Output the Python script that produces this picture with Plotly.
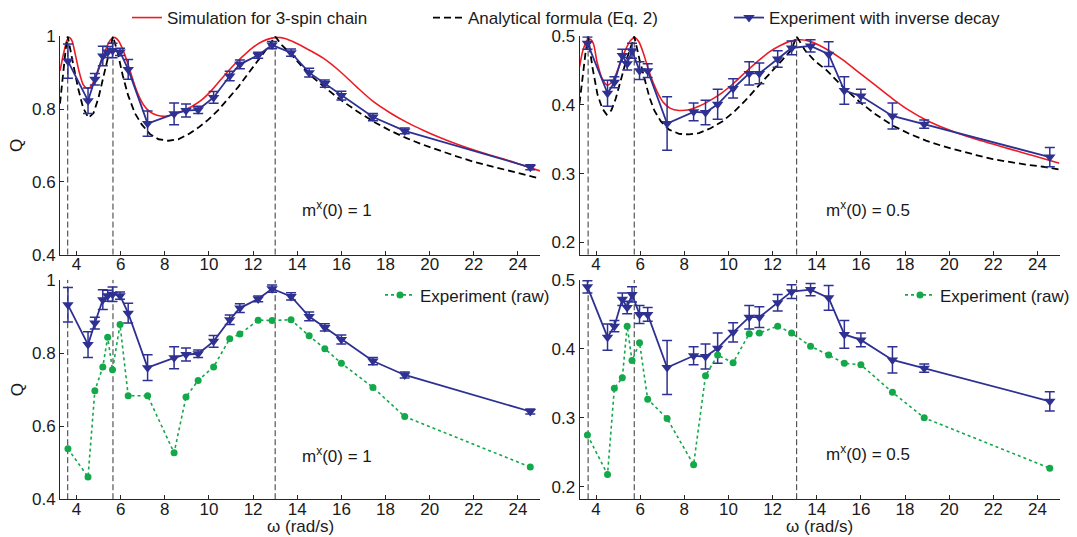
import plotly.graph_objects as go

# ---------------------------------------------------------------- data
# Drive frequencies (rad/s) of the measured points, shared by all four panels
omega = [3.61, 4.52, 4.83, 5.19, 5.41, 5.63, 5.97, 6.34, 7.22, 8.42, 8.96, 9.51,
         10.21, 10.94, 11.40, 12.23, 12.86, 13.72, 14.54, 15.25, 16.00, 17.43,
         18.87, 24.56]

# m^x(0) = 1 : experiment corrected for inverse decay, its error, and raw data
exp_q_1 = [0.932, 0.823, 0.882, 0.946, 0.957, 0.961, 0.957, 0.909, 0.760, 0.787,
           0.796, 0.798, 0.832, 0.891, 0.923, 0.948, 0.976, 0.955, 0.900, 0.870,
           0.837, 0.778, 0.740, 0.640]
exp_err_1 = [0.047, 0.035, 0.016, 0.027, 0.015, 0.020, 0.010, 0.027, 0.035, 0.030,
             0.018, 0.010, 0.016, 0.013, 0.012, 0.008, 0.010, 0.010, 0.012, 0.010,
             0.012, 0.010, 0.008, 0.007]
raw_q_1 = [0.538, 0.461, 0.697, 0.762, 0.843, 0.754, 0.878, 0.683, 0.683, 0.527,
           0.680, 0.725, 0.762, 0.839, 0.852, 0.890, 0.889, 0.891, 0.847, 0.812,
           0.772, 0.706, 0.626, 0.488]

# m^x(0) = 0.5
exp_q_05 = [0.490, 0.417, 0.433, 0.472, 0.460, 0.479, 0.450, 0.450, 0.373, 0.390,
            0.389, 0.401, 0.424, 0.446, 0.446, 0.467, 0.483, 0.486, 0.474, 0.421,
            0.413, 0.384, 0.372, 0.324]
exp_err_05 = [0.009, 0.019, 0.008, 0.009, 0.009, 0.011, 0.013, 0.010, 0.039, 0.013,
              0.018, 0.022, 0.014, 0.017, 0.015, 0.012, 0.010, 0.009, 0.018, 0.020,
              0.010, 0.019, 0.006, 0.014]
raw_q_05 = [0.275, 0.218, 0.343, 0.358, 0.433, 0.383, 0.409, 0.327, 0.299, 0.232,
            0.361, 0.391, 0.380, 0.422, 0.423, 0.433, 0.423, 0.404, 0.391, 0.379,
            0.377, 0.337, 0.300, 0.227]

# Simulation for the 3-spin chain
sim_w_1 = [3.25, 3.41, 3.56, 3.66, 3.79, 3.94, 4.12, 4.31, 4.48, 4.64, 4.84, 5.07,
           5.30, 5.52, 5.71, 5.90, 6.12, 6.35, 6.58, 6.80, 7.03, 7.33, 7.64, 8.01,
           8.39, 8.77, 9.22, 9.67, 10.13, 10.58, 11.03, 11.48, 11.94, 12.39, 12.84,
           13.10, 13.44, 13.89, 14.43, 15.18, 15.93, 16.69, 17.44, 18.20, 18.95,
           19.70, 20.46, 21.22, 21.97, 22.72, 23.50, 24.25, 25.00]
sim_q_1 = [0.905, 0.952, 0.988, 0.997, 0.988, 0.951, 0.902, 0.866, 0.857, 0.861,
           0.884, 0.920, 0.960, 0.989, 0.997, 0.988, 0.960, 0.920, 0.875, 0.839,
           0.812, 0.792, 0.783, 0.780, 0.785, 0.794, 0.807, 0.825, 0.852, 0.884,
           0.915, 0.942, 0.967, 0.985, 0.995, 0.997, 0.994, 0.983, 0.966, 0.940,
           0.904, 0.861, 0.821, 0.790, 0.764, 0.742, 0.722, 0.704, 0.688, 0.674,
           0.660, 0.645, 0.630]

sim_w_05 = [3.25, 3.41, 3.59, 3.71, 3.87, 4.05, 4.27, 4.50, 4.68, 4.88, 5.11, 5.33,
            5.56, 5.76, 5.94, 6.16, 6.39, 6.62, 6.85, 7.07, 7.37, 7.75, 8.21, 8.66,
            9.19, 9.72, 10.25, 10.78, 11.31, 11.84, 12.37, 12.82, 13.28, 13.65,
            14.11, 14.56, 15.17, 15.92, 16.68, 17.44, 18.19, 18.95, 19.71, 20.46,
            21.22, 21.98, 22.73, 23.49, 24.25, 25.00]
sim_q_05 = [0.455, 0.480, 0.494, 0.496, 0.490, 0.462, 0.439, 0.429, 0.432, 0.443,
            0.462, 0.480, 0.494, 0.498, 0.492, 0.474, 0.450, 0.430, 0.414, 0.403,
            0.395, 0.392, 0.393, 0.398, 0.407, 0.418, 0.432, 0.448, 0.463, 0.477,
            0.487, 0.493, 0.495, 0.493, 0.487, 0.479, 0.466, 0.447, 0.428, 0.409,
            0.392, 0.378, 0.367, 0.358, 0.350, 0.343, 0.336, 0.329, 0.322, 0.315]

# Analytical formula (Eq. 2)
ana_w_1 = [3.25, 3.40, 3.51, 3.60, 3.73, 3.83, 4.07, 4.30, 4.54, 4.77, 4.99, 5.20,
           5.41, 5.65, 5.86, 6.09, 6.33, 6.64, 6.95, 7.33, 7.71, 8.16, 8.61, 9.07,
           9.52, 9.97, 10.43, 10.88, 11.33, 11.78, 12.22, 12.66, 13.00, 13.27,
           13.68, 14.08, 14.50, 15.20, 15.90, 16.69, 17.44, 18.20, 18.95, 19.70,
           20.46, 21.22, 22.00, 22.75, 23.50, 24.25, 25.00]
ana_q_1 = [0.815, 0.911, 0.965, 1.000, 0.965, 0.929, 0.857, 0.803, 0.776, 0.789,
           0.830, 0.884, 0.947, 1.000, 0.956, 0.893, 0.839, 0.789, 0.758, 0.731,
           0.717, 0.713, 0.717, 0.731, 0.749, 0.771, 0.798, 0.830, 0.861, 0.898,
           0.933, 0.969, 1.000, 0.978, 0.953, 0.925, 0.898, 0.862, 0.828, 0.795,
           0.766, 0.741, 0.720, 0.702, 0.685, 0.670, 0.655, 0.643, 0.631, 0.620,
           0.609]

ana_w_05 = [3.25, 3.40, 3.53, 3.64, 3.83, 4.06, 4.28, 4.48, 4.69, 4.89, 5.12, 5.35,
            5.58, 5.73, 5.97, 6.19, 6.42, 6.64, 6.94, 7.31, 7.76, 8.21, 8.66, 9.19,
            9.72, 10.25, 10.78, 11.31, 11.84, 12.38, 12.85, 13.09, 13.46, 13.91,
            14.43, 15.17, 15.92, 16.68, 17.44, 18.19, 18.95, 19.71, 20.46, 21.22,
            21.98, 22.73, 23.49, 24.25, 25.00]
ana_q_05 = [0.402, 0.445, 0.478, 0.500, 0.456, 0.416, 0.395, 0.386, 0.392, 0.409,
            0.437, 0.463, 0.485, 0.500, 0.466, 0.437, 0.411, 0.392, 0.376, 0.364,
            0.358, 0.357, 0.359, 0.366, 0.376, 0.390, 0.407, 0.426, 0.445, 0.464,
            0.480, 0.500, 0.480, 0.464, 0.451, 0.427, 0.405, 0.386, 0.370, 0.358,
            0.348, 0.340, 0.333, 0.327, 0.321, 0.317, 0.313, 0.310, 0.306]

# Resonance frequencies (peaks of Eq. 2) marked by vertical dashed lines
resonances_1 = [3.60, 5.65, 13.00]
resonances_05 = [3.64, 5.73, 13.09]

x_ticks = [4, 6, 8, 10, 12, 14, 16, 18, 20, 22, 24]
y_ticks_1 = [0.4, 0.6, 0.8, 1.0]
y_ticks_05 = [0.2, 0.3, 0.4, 0.5]

# ---------------------------------------------------------------- style
W, H = 1077, 537
FONT = "Liberation Sans, Arial, Helvetica, sans-serif"
TXT = "#1a1a1a"
RED = "#ed1c24"
BLUE = "#2e3192"
GREEN = "#13a84a"
FS = 17


def xdom(a, b):
    return [a / W, b / W]


def ydom(top, bottom):
    return [1 - bottom / H, 1 - top / H]


fig = go.Figure()

# panel layout: (xaxis, yaxis) suffixes
panels = {
    "tl": ("x", "y"),
    "tr": ("x2", "y2"),
    "bl": ("x3", "y3"),
    "br": ("x4", "y4"),
}

# ---------------------------------------------------------------- traces
for key, sw, sq, aw, aq, eq, ee in [
    ("tl", sim_w_1, sim_q_1, ana_w_1, ana_q_1, exp_q_1, exp_err_1),
    ("tr", sim_w_05, sim_q_05, ana_w_05, ana_q_05, exp_q_05, exp_err_05),
]:
    xa, ya = panels[key]
    first = key == "tl"
    fig.add_trace(go.Scatter(
        x=sw, y=sq, xaxis=xa, yaxis=ya, mode="lines",
        line=dict(color=RED, width=1.6, shape="spline", smoothing=0.8),
        name="Simulation for 3-spin chain", showlegend=first, legend="legend"))
    fig.add_trace(go.Scatter(
        x=aw, y=aq, xaxis=xa, yaxis=ya, mode="lines",
        line=dict(color="black", width=1.8, dash="7px,4px"),
        name="Analytical formula (Eq. 2)", showlegend=first, legend="legend"))
    fig.add_trace(go.Scatter(
        x=omega, y=eq, xaxis=xa, yaxis=ya, mode="lines+markers",
        line=dict(color=BLUE, width=1.8),
        marker=dict(symbol="triangle-down", size=10, color=BLUE),
        error_y=dict(type="data", array=ee, color=BLUE, thickness=1.5, width=5),
        name="Experiment with inverse decay", showlegend=first, legend="legend"))

for key, eq, ee, rq, leg in [
    ("bl", exp_q_1, exp_err_1, raw_q_1, "legend2"),
    ("br", exp_q_05, exp_err_05, raw_q_05, "legend3"),
]:
    xa, ya = panels[key]
    fig.add_trace(go.Scatter(
        x=omega, y=eq, xaxis=xa, yaxis=ya, mode="lines+markers",
        line=dict(color=BLUE, width=1.8),
        marker=dict(symbol="triangle-down", size=10, color=BLUE),
        error_y=dict(type="data", array=ee, color=BLUE, thickness=1.5, width=5),
        name="Experiment with inverse decay", showlegend=False))
    fig.add_trace(go.Scatter(
        x=omega, y=rq, xaxis=xa, yaxis=ya, mode="lines+markers",
        line=dict(color=GREEN, width=1.6, dash="dot"),
        marker=dict(symbol="circle", size=7, color=GREEN),
        name="Experiment (raw)", showlegend=True, legend=leg))

# ---------------------------------------------------------------- resonance markers
for key, res in [("tl", resonances_1), ("bl", resonances_1),
                 ("tr", resonances_05), ("br", resonances_05)]:
    xa, ya = panels[key]
    for w0 in res:
        fig.add_shape(type="line", xref=xa, yref=f"{ya} domain",
                      x0=w0, x1=w0, y0=0, y1=1,
                      line=dict(color="#333333", width=1, dash="6px,3px"),
                      layer="below")

# ---------------------------------------------------------------- axes
axis_common = dict(
    showline=True, linecolor="#262626", linewidth=1,
    ticks="inside", ticklen=4, tickcolor="#262626", tickwidth=1,
    showgrid=False, zeroline=False, mirror=False, automargin=False,
    tickfont=dict(family=FONT, size=FS, color=TXT),
)
x_extra = dict(ticklabelstandoff=-6)

x_left = xdom(60, 540)
x_right = xdom(579.5, 1059.5)
y_top = ydom(33.5, 253)
y_bot = ydom(278.5, 499)

xr = [3.25, 25.0]
yr_1 = [0.4, 1.0]
yr_05 = [0.182, 0.5]

ytitle = dict(text="Q", font=dict(family=FONT, size=FS, color=TXT), standoff=4)

fig.update_layout(
    xaxis=dict(domain=x_left, range=xr, anchor="y", tickvals=x_ticks,
               **x_extra, **axis_common),
    yaxis=dict(domain=y_top, range=yr_1, anchor="x", tickvals=y_ticks_1,
               ticktext=["0.4", "0.6", "0.8", "1"], title=ytitle, **axis_common),
    xaxis2=dict(domain=x_right, range=xr, anchor="y2", tickvals=x_ticks,
                **x_extra, **axis_common),
    yaxis2=dict(domain=y_top, range=yr_05, anchor="x2", tickvals=y_ticks_05,
                ticktext=["0.2", "0.3", "0.4", "0.5"], **axis_common),
    xaxis3=dict(domain=x_left, range=xr, anchor="y3", tickvals=x_ticks,
                **x_extra, **axis_common),
    yaxis3=dict(domain=y_bot, range=yr_1, anchor="x3", tickvals=y_ticks_1,
                ticktext=["0.4", "0.6", "0.8", "1"], title=ytitle, **axis_common),
    xaxis4=dict(domain=x_right, range=xr, anchor="y4", tickvals=x_ticks,
                **x_extra, **axis_common),
    yaxis4=dict(domain=y_bot, range=yr_05, anchor="x4", tickvals=y_ticks_05,
                ticktext=["0.2", "0.3", "0.4", "0.5"], **axis_common),
)

# x-axis titles of the lower row, placed just under the tick labels
for x_dom in (x_left, x_right):
    fig.add_annotation(x=(x_dom[0] + x_dom[1]) / 2, y=0,
                       xref="paper", yref="paper", text="ω (rad/s)",
                       showarrow=False, xanchor="center", yanchor="bottom",
                       borderpad=0,
                       font=dict(family=FONT, size=FS, color=TXT))

# ---------------------------------------------------------------- legends
legend_font = dict(family=FONT, size=FS, color=TXT)
fig.update_layout(
    legend=dict(orientation="h", x=127 / W, y=1 - 15 / H, xanchor="left",
                yanchor="middle", font=legend_font, bgcolor="rgba(0,0,0,0)",
                entrywidth=256, traceorder="normal"),
    legend2=dict(x=380 / W, y=1 - 294 / H, xanchor="left", yanchor="middle",
                 font=legend_font, bgcolor="rgba(0,0,0,0)"),
    legend3=dict(x=900 / W, y=1 - 294 / H, xanchor="left", yanchor="middle",
                 font=legend_font, bgcolor="rgba(0,0,0,0)"),
)

# ---------------------------------------------------------------- panel labels
for xpx, ypx, txt in [
    (300, 207, "m<sup>x</sup>(0) = 1"),
    (300, 455, "m<sup>x</sup>(0) = 1"),
    (824, 207, "m<sup>x</sup>(0) = 0.5"),
    (824, 453, "m<sup>x</sup>(0) = 0.5"),
]:
    fig.add_annotation(x=xpx / W, y=1 - ypx / H, xref="paper", yref="paper",
                       text=txt, showarrow=False, xanchor="left", yanchor="middle",
                       font=dict(family=FONT, size=FS, color=TXT))

fig.update_layout(
    template="none",
    width=W, height=H, autosize=False,
    margin=dict(l=0, r=0, t=0, b=0),
    paper_bgcolor="white", plot_bgcolor="white",
    font=dict(family=FONT, size=FS, color=TXT),
)

fig.write_html("out.html")
